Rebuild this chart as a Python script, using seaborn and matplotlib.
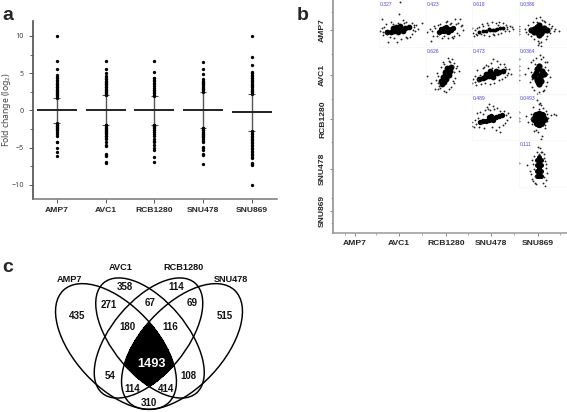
import numpy as np
import pandas as pd
import seaborn as sns
import matplotlib
matplotlib.use('Agg')
import matplotlib.pyplot as plt
from matplotlib.patches import Ellipse

samples = ['AMP7', 'AVC1', 'RCB1280', 'SNU478', 'SNU869']

# panel a: mean, whisker limits and outlying fold changes
means = [0.1, 0.05, 0.05, 0.05, -0.25]
whisker_low = [-1.7, -1.9, -1.9, -2.3, -2.8]
whisker_high = [1.7, 2.0, 1.9, 2.5, 2.2]
amp7_points = [10, 6.6, 5.6, 4.7, 4.5, 4.3, 4.1, 3.9, 3.7, 3.5, 3.4, 3.2, 3.1, 2.9, 2.8, 2.6, 2.5, 2.3, 2.2, 2.0, 1.9, 1.7,
               -1.7, -1.8, -1.9, -2.1, -2.2, -2.4, -2.5, -2.7, -2.9, -3.2, -3.4, -4.2, -4.3, -5.0, -5.6, -6.1]
avc1_points = [6.6, 5.6, 5.0, 4.6, 4.4, 4.2, 4.0, 3.8, 3.7, 3.5, 3.4, 3.2, 3.1, 2.9, 2.8, 2.6, 2.5, 2.3, 2.2, 2.0,
               -1.9, -2.0, -2.2, -2.3, -2.5, -2.6, -2.8, -2.9, -3.1, -3.2, -3.4, -3.5, -3.7, -3.9, -4.3, -4.7, -4.8, -5.9, -6.0, -6.1, -6.9, -7.0]
rcb1280_points = [6.6, 5.1, 4.4, 4.3, 4.1, 3.9, 3.7, 3.5, 3.3, 3.0, 2.8, 2.7, 2.5, 2.3, 2.1, 1.9,
                  -1.9, -2.0, -2.1, -2.2, -2.4, -2.6, -2.7, -2.9, -3.2, -3.4, -3.9, -4.1, -4.3, -4.6, -5.1, -5.3, -6.3, -6.9]
snu478_points = [6.5, 5.5, 4.9, 4.2, 4.0, 3.8, 3.7, 3.5, 3.4, 3.2, 3.0, 2.9, 2.7, 2.5,
                 -2.3, -2.4, -2.6, -2.7, -2.9, -3.0, -3.2, -3.3, -3.5, -3.6, -3.8, -4.1, -4.3, -4.9, -5.1, -5.3, -5.9, -6.0, -7.2]
snu869_points = [10, 7.1, 6.1, 5.2, 5.0, 4.8, 4.6, 4.4, 4.3, 4.1, 3.9, 3.8, 3.6, 3.4, 3.3, 3.1, 2.9, 2.8, 2.6, 2.4, 2.2,
                 -2.8, -3.0, -3.2, -3.4, -3.6, -3.8, -4.0, -4.2, -4.4, -4.6, -4.8, -5.0, -5.2, -5.4, -5.6, -5.8, -6.0, -6.2, -6.4, -7.0, -7.2, -7.4, -10]

# panel b: upper triangle cells, same order in all lists below
pair_rows = [0, 0, 0, 0, 1, 1, 1, 2, 2, 3]
pair_cols = [1, 2, 3, 4, 2, 3, 4, 3, 4, 4]
correlations = ['0.327', '0.423', '0.618', '0.0386', '0.626', '0.473', '0.0364', '0.489', '0.0493', '0.111']
core_sizes = [17, 15, 8, 20, 18, 17, 20, 15, 28, 13]

core_x = [
    [-4.5, -3, -1.5, 0, 1.5, 3, 4.5, -2, 0, 2, -1, 1],
    [-3, -2, -1, 0, 1, 2, 3, -1, 1, 0, -2, 2],
    [-5, -3.5, -2, -0.5, 1, 2.5, 4, 5.2, -1, 1.5],
    [-3.2, -2, -1, 0, 1, 2, 3.2, -1, 1, 0, 0, -2, 2],
    [-1.8, -2, -1, -1.4, 0, -0.6, 0.6, 1.2, 1.6, 1, 2, -0.4, 0.4],
    [-5, -3.6, -2.4, -1, 0, 1, 2.4, 3.6, 5, -2, 1, 2, -0.5],
    [-2, -1.2, -0.4, 0.4, 1.2, 2, -1, 0, 1, -0.8, 0.8, 0, 0],
    [-4.5, -3.2, -2, -1, 0, 1, 2, 3.2, 4.5, -1, 1, 0],
    [-2, -1, 0, 1, 2, -1.2, 0, 1.2, -1, 0, 1, 0],
    [-1, 0, 1, -1, 0, 1, -1, 0, 1, 0, 0, -0.8, 0.8],
]
core_y = [
    [-1, -0.8, -0.4, 0, 0.4, 0.8, 1.2, 0.7, -1, -0.5, 1.2, 1.5],
    [-1, -0.6, -0.4, 0, 0.4, 0.6, 1, 0.8, -0.8, 1.2, 0.4, -0.2],
    [-0.8, -0.6, -0.3, 0, 0.2, 0.5, 0.7, 1, 0.5, 0],
    [0, 0.4, -0.8, 0, 0.6, -0.2, 0, 1.2, -1.2, 2, -2, -1, 1],
    [-3.8, -2.4, -3, -1, -1.8, 0, -0.4, 0, 1.6, 2.4, 3.2, 1.4, 2.8],
    [-1.6, -1.2, -1, -0.4, 0, 0.4, 1, 1.4, 1.6, 0.4, -1, 1.6, 1.6],
    [-0.5, 1, -3, -1, 1.5, 0.5, 2.5, 4, 0, -2.2, -2.6, -4, -2],
    [-1.2, -1, -0.8, -0.4, 0, 0.4, 0.8, 1.2, 1.6, 0.8, -0.6, 1.2],
    [0, -1, 0, 1, 0, 1.6, 2, 1.6, -1.6, -2, -1.6, 0.8],
    [3.6, 4.5, 3.6, 1.2, 2.2, 1.2, -1.2, 0, -1.2, -2.4, -3.6, -3.4, -3.2],
]
fringe_x = [
    [-6.8, 0.3, -7.6, 10, -4.2, -0.4, 0.8, -5.8, -6.4, -5.2, 6.8, 7.2, 7.8, 6, 5.8, -3, -1.5, 2, 3.6, 5.2, -7, -6.2, -3.4, 4, 6.4, 8.6, 1.4, 2.6, -2.2, 6.6, -5.4, 3.4, 0, -4.6],
    [-8, 5.8, -7, -5.4, -4.6, 5, 4, 6.6, -6.4, -3.6, 7.2, 3, 0.6, -1.6, 2, 4.6, -4, -5, 5.4, 3.6, 1, -2.4, 2.4, -1, 6.2, -3, -5.8, 4.2, 0, 1.6],
    [-8.2, 8.2, 9, -7.6, -7, -6.4, -5.8, 7, 6.2, 6.8, -3.8, -1.8, 0.4, 2.2, 3.6, 5, -2.8, -0.8, 1.4, 3, -5, -6, 5.8, 7.6, 4.4, -4.4, -7.2, -1.4, 2.8, -3.2, 9.4, 0.8],
    [-8.4, -8.4, -8.4, -8.4, -6, -5.4, 5.4, 6.2, 7, 8.4, -4.6, -3.6, 4.2, 3.6, -1.4, 0.4, 1.2, 2.4, -0.6, 0.2, 1, -0.6, 0.8, -2.6, -4, 4.8, 5, -4.8, 2.8, -2, 2, -1],
    [-8, -6.2, -4.8, -4.2, -3.2, 3.2, 4.2, 5.4, 2.4, 1.4, 3, 3.6, -3.4, -2.8, 0.8, 2.2, -1, -2, -2.4, 3.8, 0.2, -0.8, 1.8, 2.8, -3.6, -4, 4.6, -1.4, 1.2, 3.4],
    [-8, -7.6, -7, -6.4, -6, -5.4, -4.4, -3, 1, 2.4, 4, 5.4, 6.4, 7, 7.8, 8.4, -1.4, 0, 1.4, -0.6, 3.2, 4.6, 5.8, -4.6, -6.8, -2.4, -3.4, -2, 6, 3, 0.4, -5.6, 7.2],
    [-8.4, -8.4, -8.4, -8.4, -8.4, -6, -4.6, -3.8, -3.4, -3, 3.2, 4, 4.8, 2.8, 3.6, -2.6, -2.2, -1.4, 0.6, 1.8, -0.8, 0.4, 1.6, 2.4, -3.6, 3.4, -2.8, 2.6, -1.8, 1, -0.2, 2.2],
    [-8.2, -8.2, -7.4, -6.8, -6, -5.4, -4.8, -2.6, -1, 1, 2.4, 4, 5.4, 6.4, 7.2, 6.8, 8.2, -3.4, -1.8, -0.4, 0.6, 3.2, 5, 6, -4.4, -6.2, -5, -3, 2, 3.8, -1.4, 1.4],
    [-8.4, -8.4, -8.4, -5.6, -4.6, -3.6, -3, 3.2, 4, 5, 6.2, 7.4, 3.4, 2.6, -2.6, -2, -1, 0.4, 1, -0.4, 1.4, -1.2, 0.8, -2.8, 3, -3.4, 2.4, 1.8, 0, -0.2],
    [-8.4, -5, -3.8, -3.2, -2.8, 3, 3.4, 2.6, 2.2, -0.4, 0.6, 1, -0.8, 0.2, -2.4, -2, -1.6, 1.8, 2.4, 2, -2.2, -2.6, -1.8, 2.8, 1.4, 0, 0.8, -1.2, 2, -3, 3, 1.2],
]
fringe_y = [
    [4.7, 6.8, -0.4, 3, -5, -5, 12, 1.2, -2, 2.6, 1.2, -0.6, 2, 3, -1.6, 3.4, -3.4, 4.2, 3.6, -2.8, 0.8, -1, -2.8, -3.2, 0.2, 0.6, -4, 2.8, 2.6, 2.2, -1, -3, 3, -1.8],
    [-0.8, 4.6, 0.4, -2.6, 1, 3, 4.6, 2.2, -4.8, 2, 0.2, -3.6, 3.8, -3.2, 3, -1.2, -2.4, 1.8, -2.2, -2.4, -3.4, 2.6, -2.8, -2.6, 1.6, -1.6, -0.6, 2.4, 3.2, 2.4],
    [0.8, 1.6, 1.4, -1.2, 0.2, -1.6, -2.2, 0.4, 2.2, 1.2, 2.4, 3, 3.6, 3, 3.4, 2.8, -2.2, -2.6, -2, -1.6, 1.2, 0.8, -0.6, -0.6, -1.2, -1.6, -2.6, 2.2, 2.2, 1.6, 0.4, -1.6],
    [1.8, 0.6, -0.6, -1.6, 0.4, -0.8, 1.6, -0.6, 0.4, -0.6, 2.2, -2.4, 2.6, -2.6, 5, 5.6, 4.4, 3.6, -4.6, -5.6, -5, -6.4, -6.6, 3.6, 0.8, -1.2, 0.8, -1.6, -3.8, -3.8, 4, 3.4],
    [-0.6, -3.6, -6, -2, -6, 5, 3, 1.6, 6.6, 5.8, -2.6, 1.4, -3.2, -4.6, 7.2, -5, -6.6, 3.4, -5.4, -1.2, -7.4, 4.8, 5.4, 3.8, -0.4, 1, 4, 5.6, -5.8, -3.4],
    [-3.6, -1.8, -0.6, -4.2, 2, -2.6, -3.8, 3.4, 6.8, 5.8, 4.6, 4.6, 2.4, 0, 2.6, 0.6, 3.8, 5, -3.4, -4, -2.2, -1.6, -0.8, -0.2, -3, -3.6, 2.8, 4.4, 3.2, 3.4, 3, -1.8, 1],
    [7, 4, 2, 0, -2, 0.4, 3, -3, 5.4, -5, 5.6, 2, -1, -4.6, -2.8, 6.2, -6.4, 7.4, 8.6, 7.8, -8, -8.6, -7, 5.4, 1.4, 0.4, -1.6, 3.2, 4.6, 6.6, -7.4, -6.2],
    [-1.4, -3, -3.4, -0.4, 2.4, 0.6, 3, 3.8, 6.4, 5.4, 4.6, 3.6, 3.2, 1.6, 2.4, -0.6, 0.8, 2, 5.2, 3.8, -3.4, -3.2, -2.6, -1.8, -1.6, -2.2, -3.2, -4, -4.6, -5.4, 4.2, 4.4],
    [2.8, 0.6, -0.8, 1.2, -1.4, 2.2, 0.6, 2.2, 0.6, 1.8, 2.2, 1.6, -1, -2.4, 5.2, -5, 8, 7, 6, -5.6, -7.4, -4.6, -8.6, -2, 3.6, 0.2, -3.8, 4.8, 6.4, 4.4, -2.6, 5.4],
    [2.2, 1.2, -1.4, -2.6, 3.4, 0, -2.2, 3, -4, 9, 8.6, 6.6, 7, 6, -5.4, 5, -6.4, -6.4, -7.6, 6, -0.4, 1.8, -3.4, -5, -9, -10, -11, -7, 4.2, -4.6, 1.6, 7],
]

# panel c: region counts
venn_names = ['AMP7', 'AVC1', 'RCB1280', 'SNU478']
venn_counts = [435, 358, 114, 515, 271, 67, 69, 180, 116, 1493, 54, 108, 114, 414, 310]


def to_axes_box(left, top, right, bottom):
    return [left / 567, 1 - bottom / 412, (right - left) / 567, (bottom - top) / 412]


def plot_fold_change(fig):
    ax = fig.add_axes(to_axes_box(33, 21, 277, 199))
    point_lists = [amp7_points, avc1_points, rcb1280_points, snu478_points, snu869_points]
    df = pd.DataFrame({
        'sample': [s for s, pts in zip(samples, point_lists) for _ in pts],
        'fold_change': [v for pts in point_lists for v in pts],
    })
    sns.stripplot(data=df, x='sample', y='fold_change', order=samples, jitter=False,
                  color='black', size=2.4, linewidth=0, ax=ax)
    for i in range(len(samples)):
        ax.vlines(i, whisker_low[i], whisker_high[i], color='#555555', lw=1.0, zorder=1)
        ax.hlines([whisker_low[i], whisker_high[i]], i - 0.07, i + 0.07, color='#555555', lw=0.8, zorder=1)
        ax.hlines(means[i], i - 0.41, i + 0.41, color='#222222', lw=1.4, zorder=3)
    ax.set_xlim(-0.49, 4.52)
    ax.set_ylim(-11.9, 12)
    ax.set_yticks([-10, -5, 0, 5, 10])
    ax.set_yticks([-7.5, -2.5, 2.5, 7.5], minor=True)
    ax.set_xlabel('')
    ax.set_ylabel('Fold change (log$_2$)', fontsize=6.2, color='#444444')
    ax.yaxis.set_label_coords(-0.08, 0.5)
    ax.tick_params(axis='y', labelsize=5.2, labelcolor='#444444', color='#555555', width=0.7, length=3, left=True)
    ax.tick_params(axis='y', which='minor', color='#555555', width=0.6, length=2, left=True)
    ax.tick_params(axis='x', color='#555555', width=0.7, length=3, pad=3, bottom=True)
    for label in ax.get_xticklabels():
        label.set_fontsize(6.1)
        label.set_fontweight('bold')
        label.set_family('Liberation Sans')
    sns.despine(ax=ax)
    ax.spines['left'].set_color('#555555')
    ax.spines['bottom'].set_color('#777777')
    ax.spines['bottom'].set_linewidth(1.1)


def plot_pairs(fig):
    cols = [333, 379, 426, 472, 519, 567]
    rows = [0, 47, 94, 140, 187]
    cloud_cx = [0, 398, 446, 491, 539]
    cloud_cy = [30, 75, 119, 168]
    scale = 2.35

    frame = fig.add_axes(to_axes_box(333, 0, 567, 233))
    frame.set_xlim(333, 567)
    frame.set_ylim(233, 0)
    frame.patch.set_visible(False)
    frame.set_xticks([355, 399, 446, 491, 538])
    frame.set_xticklabels(samples, fontsize=6.1, fontweight='bold', family='Liberation Sans')
    frame.set_xticks([345, 376, 422, 468, 514, 560], minor=True)
    frame.set_yticks([30, 75, 119, 169, 211])
    frame.set_yticklabels(samples, fontsize=6.1, fontweight='bold', family='Liberation Sans', rotation=90, va='center')
    frame.set_yticks([12, 54, 99, 142, 198, 223], minor=True)
    frame.tick_params(axis='both', which='major', color='#888888', width=0.7, length=2, pad=3, left=True, bottom=True)
    frame.tick_params(axis='both', which='minor', color='#888888', width=0.5, length=1.2, left=True, bottom=True)
    sns.despine(ax=frame)
    frame.spines['left'].set_color('#999999')
    frame.spines['left'].set_linewidth(1.3)
    frame.spines['bottom'].set_color('#999999')
    frame.spines['bottom'].set_linewidth(1.1)

    for k, (r, c) in enumerate(zip(pair_rows, pair_cols)):
        left, right = cols[c], cols[c + 1]
        top, bottom = rows[r], rows[r + 1]
        ax = fig.add_axes(to_axes_box(left, top, right, bottom))
        ax.patch.set_visible(False)
        ax.set_xlim((left - cloud_cx[c]) / scale, (right - cloud_cx[c]) / scale)
        ax.set_ylim((cloud_cy[r] - bottom) / scale, (cloud_cy[r] - top) / scale)
        core = pd.DataFrame(list(zip(core_x[k], core_y[k])), columns=['x', 'y'])
        fringe = pd.DataFrame(list(zip(fringe_x[k], fringe_y[k])), columns=['x', 'y'])
        sns.scatterplot(data=core, x='x', y='y', s=core_sizes[k], color='black', linewidth=0, ax=ax)
        sns.scatterplot(data=fringe, x='x', y='y', s=1.8, color='#222222', linewidth=0, ax=ax)
        ax.set_xlabel('')
        ax.set_ylabel('')
        ax.set_xticks([])
        ax.set_yticks([])
        for name in ['top', 'right']:
            ax.spines[name].set_visible(False)
        for name in ['left', 'bottom']:
            ax.spines[name].set_color('#f3f3f3')
            ax.spines[name].set_linewidth(0.5)
            ax.spines[name].set_linestyle(':')
        ax.text(0.02, 0.965, correlations[k], transform=ax.transAxes, fontsize=3.6,
                color='#4a4ad0', va='top', ha='left', family='Liberation Sans')


def plot_venn(fig):
    ax = fig.add_axes([0, 0, 1, 1])
    ax.set_xlim(0, 567)
    ax.set_ylim(412, 0)
    ax.axis('off')
    ax.patch.set_visible(False)

    # centre x, centre y, semi axes and tilt in image pixels
    shapes = [(116, 346.5, 77, 41, 47), (150, 338, 72, 37, 50),
              (148.5, 338, 72, 37, 130), (182, 346.5, 77, 41, 133)]
    xx, yy = np.meshgrid(np.linspace(100, 200, 500), np.linspace(300, 400, 500))
    inside = np.zeros_like(xx)
    for cx, cy, a, b, angle in shapes:
        t = np.radians(angle)
        u = (xx - cx) * np.cos(t) + (yy - cy) * np.sin(t)
        v = -(xx - cx) * np.sin(t) + (yy - cy) * np.cos(t)
        inside = np.maximum(inside, (u / a) ** 2 + (v / b) ** 2)
        ax.add_patch(Ellipse((cx, cy), 2 * a, 2 * b, angle=angle, fill=False, ec='black', lw=1.05))
    ax.contourf(xx, yy, inside, levels=[0, 1], colors='black')

    count_pos = [(77, 316), (125, 286.5), (176.5, 286.5), (224.5, 316), (109, 305), (150, 303), (192, 303),
                 (127, 327), (170.5, 327), (151, 364), (110, 376), (188.5, 376), (132, 389), (166, 389), (149, 402.5)]
    for count, (x, y) in zip(venn_counts, count_pos):
        big = count == 1493
        ax.text(x, y, str(count), ha='center', va='center', fontweight='bold', family='Liberation Sans',
                fontsize=9.2 if big else 7, color='white' if big else '#111111')
    name_pos = [(69, 280), (121, 267), (184, 267), (231, 280)]
    for name, (x, y) in zip(venn_names, name_pos):
        ax.text(x, y, name, ha='center', va='center', fontweight='bold', family='Liberation Sans',
                fontsize=6.6, color='#111111')

    for letter, x, y in [('a', 2, 15), ('b', 297, 15), ('c', 2, 268)]:
        ax.text(x, y, letter, fontsize=14, fontweight='bold', family='Liberation Sans', va='center', ha='left')


def main():
    sns.set_theme(style='white')
    plt.rcParams['font.family'] = ['Noto Sans', 'DejaVu Sans']
    plt.rcParams['mathtext.default'] = 'regular'
    fig = plt.figure(figsize=(5.67, 4.12), dpi=100)
    plot_fold_change(fig)
    plot_pairs(fig)
    plot_venn(fig)
    fig.savefig('out.png', dpi=100)


if __name__ == "__main__":
    main()
